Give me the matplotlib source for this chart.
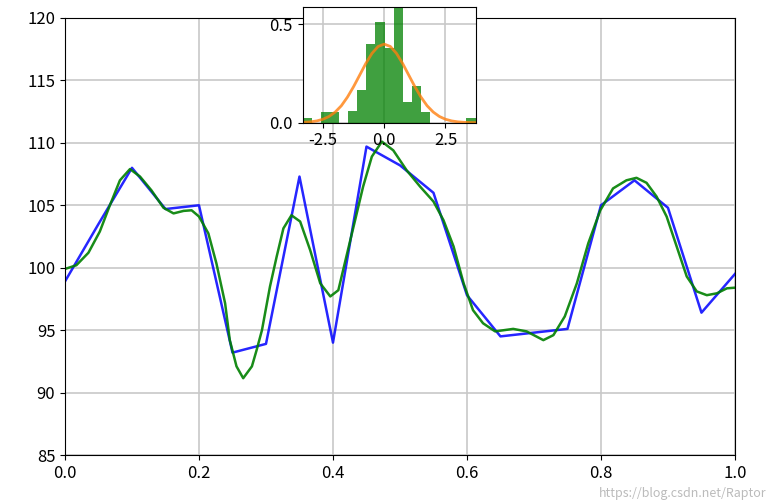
import matplotlib.pyplot as plt

plt.rcParams['font.family'] = ['Noto Sans CJK SC', 'DejaVu Sans']
plt.rcParams['axes.unicode_minus'] = False

# blue series: raw samples
x_raw = [0.0, 0.05, 0.1, 0.15, 0.2, 0.25, 0.3, 0.35, 0.4, 0.45, 0.5,
         0.55, 0.6, 0.65, 0.7, 0.75, 0.8, 0.85, 0.9, 0.95, 1.0]
y_raw = [98.9, 103.5, 108.0, 104.7, 105.0, 93.2, 93.9, 107.3, 94.0, 109.7, 108.2,
         106.0, 97.8, 94.5, 94.8, 95.1, 105.0, 107.0, 104.8, 96.4, 99.5]

# green series: smooth curve
x_fit = [0.0, 0.017, 0.035, 0.052, 0.067, 0.082, 0.097, 0.112, 0.129, 0.147,
         0.162, 0.177, 0.189, 0.2, 0.214, 0.226, 0.239, 0.246, 0.256, 0.266,
         0.279, 0.286, 0.294, 0.306, 0.316, 0.326, 0.338, 0.351, 0.366, 0.381,
         0.396, 0.408, 0.42, 0.433, 0.445, 0.458, 0.473, 0.49, 0.51, 0.53,
         0.55, 0.565, 0.58, 0.595, 0.609, 0.624, 0.642, 0.669, 0.689, 0.714,
         0.729, 0.746, 0.764, 0.781, 0.799, 0.818, 0.838, 0.853, 0.868, 0.883,
         0.898, 0.913, 0.928, 0.943, 0.958, 0.973, 0.988, 1.0]
y_fit = [99.9, 100.2, 101.2, 102.9, 105.0, 107.0, 107.9, 107.3, 106.2, 104.8,
         104.35, 104.55, 104.6, 104.1, 102.75, 100.35, 97.15, 94.2, 92.1, 91.15,
         92.1, 93.4, 95.0, 98.5, 100.9, 103.15, 104.2, 103.7, 101.4, 98.75,
         97.7, 98.2, 100.9, 103.8, 106.5, 108.9, 110.1, 109.4, 107.8, 106.5,
         105.3, 103.8, 101.7, 98.75, 96.6, 95.55, 94.9, 95.1, 94.9, 94.2,
         94.6, 96.1, 98.75, 101.95, 104.6, 106.35, 107.0, 107.2, 106.8, 105.7,
         104.1, 101.7, 99.3, 98.1, 97.8, 97.95, 98.35, 98.4]

# inset: residual histogram (density) and fitted curve
bin_left = [-3.33, -2.958, -2.587, -2.215, -1.844, -1.472, -1.101, -0.729, -0.358,
            0.014, 0.385, 0.757, 1.128, 1.5, 1.871, 2.243, 2.614, 2.986, 3.357]
bin_height = [0.022, 0.0, 0.056, 0.056, 0.0, 0.059, 0.166, 0.398, 0.513,
              0.38, 0.6, 0.107, 0.188, 0.056, 0.0, 0.0, 0.0, 0.0, 0.025]
bin_w = 0.3716
pdf_x = [-3.33, -3.0, -2.75, -2.5, -2.25, -2.0, -1.75, -1.5, -1.25, -1.0, -0.75,
         -0.5, -0.25, 0.0, 0.25, 0.5, 0.75, 1.0, 1.25, 1.5, 1.75, 2.0, 2.25,
         2.5, 2.75, 3.0, 3.25, 3.5, 3.73]
pdf_y = [0.0016, 0.0044, 0.0091, 0.0175, 0.0317, 0.054, 0.086, 0.13, 0.183, 0.242,
         0.301, 0.352, 0.387, 0.399, 0.387, 0.352, 0.301, 0.242, 0.183, 0.13,
         0.086, 0.054, 0.0317, 0.0175, 0.0091, 0.0044, 0.002, 0.0009, 0.0004]

fig = plt.figure(figsize=(7.7, 5.0), dpi=100)
ax = fig.add_axes([0.0844, 0.09, 0.8701, 0.874])
ax.plot(x_raw, y_raw, color='blue', alpha=0.85, lw=1.8)
ax.plot(x_fit, y_fit, color='green', alpha=0.9, lw=1.8)
ax.set_xlim(0, 1)
ax.set_ylim(85, 120)
ax.set_xticks([0.0, 0.2, 0.4, 0.6, 0.8, 1.0])
ax.set_yticks(range(85, 121, 5))
ax.grid(True, color='#c8c8c8', lw=1.2)
ax.tick_params(labelsize=12)

ins = fig.add_axes([0.393, 0.7546, 0.2247, 0.2308])
ins.bar(bin_left, bin_height, width=bin_w, align='edge', color='green', alpha=0.75)
ins.plot(pdf_x, pdf_y, color='#ff7f0e', alpha=0.8, lw=2)
ins.set_xlim(-3.33, 3.73)
ins.set_ylim(0, 0.586)
ins.set_xticks([-2.5, 0.0, 2.5])
ins.set_yticks([0.0, 0.5])
ins.grid(True, color='#c8c8c8', lw=1.2)
ins.set_axisbelow(True)
ins.tick_params(labelsize=12)

# watermark, kept below the tick labels
fig.text(0.995, 0.0, 'https://blog.csdn.net/Raptor', ha='right', va='bottom',
         color='#bbbbbb', fontsize=9)

fig.savefig('out.png', dpi=100)
